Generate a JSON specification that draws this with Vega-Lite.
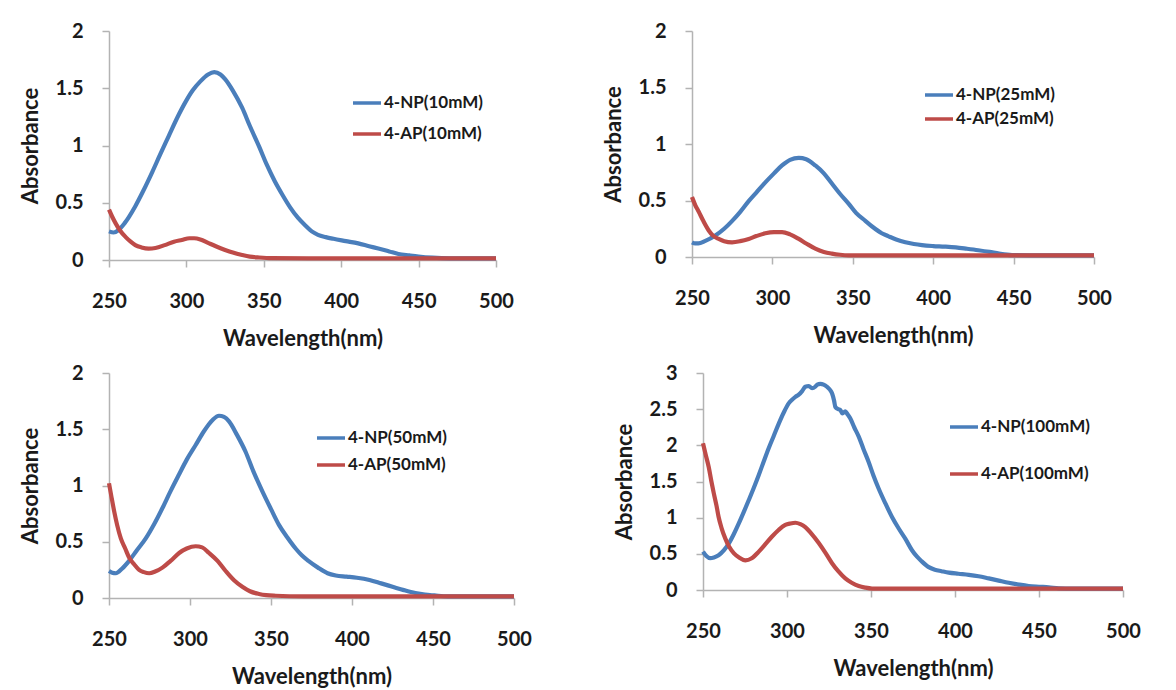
{
  "$schema": "https://vega.github.io/schema/vega-lite/v6.json",
  "background": "white",
  "padding": {"left": 19, "top": 21, "right": 5, "bottom": 5},
  "spacing": 14,
  "datasets": {
    "p10": [
      {"series": "4-NP(10mM)", "wl": 250, "abs": 0.25}, {"series": "4-NP(10mM)", "wl": 253, "abs": 0.24},
      {"series": "4-NP(10mM)", "wl": 256, "abs": 0.26}, {"series": "4-NP(10mM)", "wl": 260, "abs": 0.32},
      {"series": "4-NP(10mM)", "wl": 267, "abs": 0.47}, {"series": "4-NP(10mM)", "wl": 272, "abs": 0.6},
      {"series": "4-NP(10mM)", "wl": 278, "abs": 0.77}, {"series": "4-NP(10mM)", "wl": 283, "abs": 0.92},
      {"series": "4-NP(10mM)", "wl": 288.5, "abs": 1.08}, {"series": "4-NP(10mM)", "wl": 294, "abs": 1.24},
      {"series": "4-NP(10mM)", "wl": 299, "abs": 1.37}, {"series": "4-NP(10mM)", "wl": 304, "abs": 1.48},
      {"series": "4-NP(10mM)", "wl": 309, "abs": 1.56}, {"series": "4-NP(10mM)", "wl": 314, "abs": 1.62},
      {"series": "4-NP(10mM)", "wl": 318, "abs": 1.64}, {"series": "4-NP(10mM)", "wl": 322, "abs": 1.62},
      {"series": "4-NP(10mM)", "wl": 325, "abs": 1.58}, {"series": "4-NP(10mM)", "wl": 330, "abs": 1.48},
      {"series": "4-NP(10mM)", "wl": 336, "abs": 1.33}, {"series": "4-NP(10mM)", "wl": 341, "abs": 1.17},
      {"series": "4-NP(10mM)", "wl": 347, "abs": 0.99}, {"series": "4-NP(10mM)", "wl": 352, "abs": 0.83},
      {"series": "4-NP(10mM)", "wl": 357, "abs": 0.69}, {"series": "4-NP(10mM)", "wl": 362, "abs": 0.57},
      {"series": "4-NP(10mM)", "wl": 367, "abs": 0.46}, {"series": "4-NP(10mM)", "wl": 372, "abs": 0.37},
      {"series": "4-NP(10mM)", "wl": 377, "abs": 0.3}, {"series": "4-NP(10mM)", "wl": 381, "abs": 0.25},
      {"series": "4-NP(10mM)", "wl": 385, "abs": 0.22}, {"series": "4-NP(10mM)", "wl": 390, "abs": 0.2},
      {"series": "4-NP(10mM)", "wl": 395, "abs": 0.185}, {"series": "4-NP(10mM)", "wl": 403, "abs": 0.165},
      {"series": "4-NP(10mM)", "wl": 411, "abs": 0.145}, {"series": "4-NP(10mM)", "wl": 418, "abs": 0.12},
      {"series": "4-NP(10mM)", "wl": 424, "abs": 0.1}, {"series": "4-NP(10mM)", "wl": 431, "abs": 0.075},
      {"series": "4-NP(10mM)", "wl": 437, "abs": 0.053}, {"series": "4-NP(10mM)", "wl": 444, "abs": 0.04},
      {"series": "4-NP(10mM)", "wl": 450, "abs": 0.03}, {"series": "4-NP(10mM)", "wl": 459, "abs": 0.02},
      {"series": "4-NP(10mM)", "wl": 470, "abs": 0.015}, {"series": "4-NP(10mM)", "wl": 500, "abs": 0.015},
      {"series": "4-AP(10mM)", "wl": 250, "abs": 0.44}, {"series": "4-AP(10mM)", "wl": 252, "abs": 0.38},
      {"series": "4-AP(10mM)", "wl": 254.3, "abs": 0.32}, {"series": "4-AP(10mM)", "wl": 257, "abs": 0.26},
      {"series": "4-AP(10mM)", "wl": 260.8, "abs": 0.2}, {"series": "4-AP(10mM)", "wl": 264, "abs": 0.16},
      {"series": "4-AP(10mM)", "wl": 267, "abs": 0.13}, {"series": "4-AP(10mM)", "wl": 271, "abs": 0.11},
      {"series": "4-AP(10mM)", "wl": 275.6, "abs": 0.1}, {"series": "4-AP(10mM)", "wl": 280, "abs": 0.105},
      {"series": "4-AP(10mM)", "wl": 286, "abs": 0.13}, {"series": "4-AP(10mM)", "wl": 292, "abs": 0.16},
      {"series": "4-AP(10mM)", "wl": 297, "abs": 0.175}, {"series": "4-AP(10mM)", "wl": 302, "abs": 0.19},
      {"series": "4-AP(10mM)", "wl": 305, "abs": 0.19}, {"series": "4-AP(10mM)", "wl": 309, "abs": 0.18},
      {"series": "4-AP(10mM)", "wl": 314, "abs": 0.15}, {"series": "4-AP(10mM)", "wl": 319, "abs": 0.12},
      {"series": "4-AP(10mM)", "wl": 325, "abs": 0.088}, {"series": "4-AP(10mM)", "wl": 330, "abs": 0.065},
      {"series": "4-AP(10mM)", "wl": 336, "abs": 0.044}, {"series": "4-AP(10mM)", "wl": 341, "abs": 0.03},
      {"series": "4-AP(10mM)", "wl": 347, "abs": 0.022}, {"series": "4-AP(10mM)", "wl": 355, "abs": 0.016},
      {"series": "4-AP(10mM)", "wl": 380, "abs": 0.015}, {"series": "4-AP(10mM)", "wl": 420, "abs": 0.015},
      {"series": "4-AP(10mM)", "wl": 500, "abs": 0.015}
    ],
    "p25": [
      {"series": "4-NP(25mM)", "wl": 250, "abs": 0.13}, {"series": "4-NP(25mM)", "wl": 252, "abs": 0.12},
      {"series": "4-NP(25mM)", "wl": 254, "abs": 0.12}, {"series": "4-NP(25mM)", "wl": 258, "abs": 0.14},
      {"series": "4-NP(25mM)", "wl": 264.5, "abs": 0.19}, {"series": "4-NP(25mM)", "wl": 270, "abs": 0.25},
      {"series": "4-NP(25mM)", "wl": 275, "abs": 0.32}, {"series": "4-NP(25mM)", "wl": 280, "abs": 0.4},
      {"series": "4-NP(25mM)", "wl": 285, "abs": 0.49}, {"series": "4-NP(25mM)", "wl": 290, "abs": 0.57},
      {"series": "4-NP(25mM)", "wl": 295.6, "abs": 0.66}, {"series": "4-NP(25mM)", "wl": 301, "abs": 0.74},
      {"series": "4-NP(25mM)", "wl": 306, "abs": 0.81}, {"series": "4-NP(25mM)", "wl": 311, "abs": 0.86},
      {"series": "4-NP(25mM)", "wl": 316.4, "abs": 0.877}, {"series": "4-NP(25mM)", "wl": 321, "abs": 0.865},
      {"series": "4-NP(25mM)", "wl": 326.7, "abs": 0.81}, {"series": "4-NP(25mM)", "wl": 332, "abs": 0.74},
      {"series": "4-NP(25mM)", "wl": 337, "abs": 0.65}, {"series": "4-NP(25mM)", "wl": 342, "abs": 0.56},
      {"series": "4-NP(25mM)", "wl": 347.5, "abs": 0.47}, {"series": "4-NP(25mM)", "wl": 352, "abs": 0.39},
      {"series": "4-NP(25mM)", "wl": 357.8, "abs": 0.32}, {"series": "4-NP(25mM)", "wl": 362, "abs": 0.27},
      {"series": "4-NP(25mM)", "wl": 368, "abs": 0.21}, {"series": "4-NP(25mM)", "wl": 372, "abs": 0.185},
      {"series": "4-NP(25mM)", "wl": 377, "abs": 0.155}, {"series": "4-NP(25mM)", "wl": 382.7, "abs": 0.13},
      {"series": "4-NP(25mM)", "wl": 388, "abs": 0.115}, {"series": "4-NP(25mM)", "wl": 393, "abs": 0.105},
      {"series": "4-NP(25mM)", "wl": 400, "abs": 0.097}, {"series": "4-NP(25mM)", "wl": 407, "abs": 0.092},
      {"series": "4-NP(25mM)", "wl": 414, "abs": 0.085}, {"series": "4-NP(25mM)", "wl": 421, "abs": 0.073},
      {"series": "4-NP(25mM)", "wl": 428, "abs": 0.06}, {"series": "4-NP(25mM)", "wl": 435, "abs": 0.045},
      {"series": "4-NP(25mM)", "wl": 441, "abs": 0.03}, {"series": "4-NP(25mM)", "wl": 449, "abs": 0.017},
      {"series": "4-NP(25mM)", "wl": 460, "abs": 0.015}, {"series": "4-NP(25mM)", "wl": 500, "abs": 0.015},
      {"series": "4-AP(25mM)", "wl": 250, "abs": 0.53}, {"series": "4-AP(25mM)", "wl": 252, "abs": 0.46},
      {"series": "4-AP(25mM)", "wl": 254.2, "abs": 0.4}, {"series": "4-AP(25mM)", "wl": 257, "abs": 0.32},
      {"series": "4-AP(25mM)", "wl": 260.4, "abs": 0.235}, {"series": "4-AP(25mM)", "wl": 263, "abs": 0.19},
      {"series": "4-AP(25mM)", "wl": 266.6, "abs": 0.16}, {"series": "4-AP(25mM)", "wl": 270, "abs": 0.14},
      {"series": "4-AP(25mM)", "wl": 274.9, "abs": 0.13}, {"series": "4-AP(25mM)", "wl": 280, "abs": 0.14},
      {"series": "4-AP(25mM)", "wl": 285.3, "abs": 0.16}, {"series": "4-AP(25mM)", "wl": 290, "abs": 0.185},
      {"series": "4-AP(25mM)", "wl": 295.6, "abs": 0.21}, {"series": "4-AP(25mM)", "wl": 301, "abs": 0.22},
      {"series": "4-AP(25mM)", "wl": 306, "abs": 0.22}, {"series": "4-AP(25mM)", "wl": 311, "abs": 0.2},
      {"series": "4-AP(25mM)", "wl": 316.4, "abs": 0.16}, {"series": "4-AP(25mM)", "wl": 321, "abs": 0.12},
      {"series": "4-AP(25mM)", "wl": 326.7, "abs": 0.074}, {"series": "4-AP(25mM)", "wl": 332, "abs": 0.045},
      {"series": "4-AP(25mM)", "wl": 337, "abs": 0.03}, {"series": "4-AP(25mM)", "wl": 342, "abs": 0.02},
      {"series": "4-AP(25mM)", "wl": 347.5, "abs": 0.015}, {"series": "4-AP(25mM)", "wl": 380, "abs": 0.015},
      {"series": "4-AP(25mM)", "wl": 500, "abs": 0.015}
    ],
    "p50": [
      {"series": "4-NP(50mM)", "wl": 250, "abs": 0.24}, {"series": "4-NP(50mM)", "wl": 252, "abs": 0.225},
      {"series": "4-NP(50mM)", "wl": 254.2, "abs": 0.22}, {"series": "4-NP(50mM)", "wl": 258, "abs": 0.26},
      {"series": "4-NP(50mM)", "wl": 262.4, "abs": 0.33}, {"series": "4-NP(50mM)", "wl": 267, "abs": 0.42},
      {"series": "4-NP(50mM)", "wl": 272.7, "abs": 0.53}, {"series": "4-NP(50mM)", "wl": 278, "abs": 0.66},
      {"series": "4-NP(50mM)", "wl": 283, "abs": 0.8}, {"series": "4-NP(50mM)", "wl": 288, "abs": 0.95},
      {"series": "4-NP(50mM)", "wl": 293.3, "abs": 1.1}, {"series": "4-NP(50mM)", "wl": 298, "abs": 1.23},
      {"series": "4-NP(50mM)", "wl": 303.5, "abs": 1.36}, {"series": "4-NP(50mM)", "wl": 308.5, "abs": 1.48},
      {"series": "4-NP(50mM)", "wl": 313.8, "abs": 1.58}, {"series": "4-NP(50mM)", "wl": 317.9, "abs": 1.62},
      {"series": "4-NP(50mM)", "wl": 321, "abs": 1.61}, {"series": "4-NP(50mM)", "wl": 324.1, "abs": 1.57},
      {"series": "4-NP(50mM)", "wl": 329, "abs": 1.45}, {"series": "4-NP(50mM)", "wl": 334.3, "abs": 1.3},
      {"series": "4-NP(50mM)", "wl": 339, "abs": 1.13}, {"series": "4-NP(50mM)", "wl": 344.6, "abs": 0.95},
      {"series": "4-NP(50mM)", "wl": 350, "abs": 0.79}, {"series": "4-NP(50mM)", "wl": 354.9, "abs": 0.65},
      {"series": "4-NP(50mM)", "wl": 360, "abs": 0.54}, {"series": "4-NP(50mM)", "wl": 365.2, "abs": 0.44},
      {"series": "4-NP(50mM)", "wl": 369, "abs": 0.38}, {"series": "4-NP(50mM)", "wl": 373.1, "abs": 0.33},
      {"series": "4-NP(50mM)", "wl": 379, "abs": 0.27}, {"series": "4-NP(50mM)", "wl": 384.9, "abs": 0.22},
      {"series": "4-NP(50mM)", "wl": 390, "abs": 0.2}, {"series": "4-NP(50mM)", "wl": 396.7, "abs": 0.19},
      {"series": "4-NP(50mM)", "wl": 403, "abs": 0.18}, {"series": "4-NP(50mM)", "wl": 410.8, "abs": 0.16},
      {"series": "4-NP(50mM)", "wl": 418, "abs": 0.13}, {"series": "4-NP(50mM)", "wl": 425, "abs": 0.1},
      {"series": "4-NP(50mM)", "wl": 432, "abs": 0.07}, {"series": "4-NP(50mM)", "wl": 439.1, "abs": 0.044},
      {"series": "4-NP(50mM)", "wl": 445, "abs": 0.03}, {"series": "4-NP(50mM)", "wl": 450.9, "abs": 0.023},
      {"series": "4-NP(50mM)", "wl": 459.2, "abs": 0.015}, {"series": "4-NP(50mM)", "wl": 500, "abs": 0.015},
      {"series": "4-AP(50mM)", "wl": 250, "abs": 1.02}, {"series": "4-AP(50mM)", "wl": 251.5, "abs": 0.9},
      {"series": "4-AP(50mM)", "wl": 253.2, "abs": 0.77}, {"series": "4-AP(50mM)", "wl": 255, "abs": 0.65},
      {"series": "4-AP(50mM)", "wl": 257.3, "abs": 0.53}, {"series": "4-AP(50mM)", "wl": 260, "abs": 0.44},
      {"series": "4-AP(50mM)", "wl": 262.4, "abs": 0.36}, {"series": "4-AP(50mM)", "wl": 265.5, "abs": 0.3},
      {"series": "4-AP(50mM)", "wl": 268.6, "abs": 0.25}, {"series": "4-AP(50mM)", "wl": 271.5, "abs": 0.23},
      {"series": "4-AP(50mM)", "wl": 274.8, "abs": 0.22}, {"series": "4-AP(50mM)", "wl": 278.5, "abs": 0.235},
      {"series": "4-AP(50mM)", "wl": 283, "abs": 0.27}, {"series": "4-AP(50mM)", "wl": 288, "abs": 0.33},
      {"series": "4-AP(50mM)", "wl": 293.3, "abs": 0.4}, {"series": "4-AP(50mM)", "wl": 298, "abs": 0.44},
      {"series": "4-AP(50mM)", "wl": 303.5, "abs": 0.46}, {"series": "4-AP(50mM)", "wl": 307.5, "abs": 0.45},
      {"series": "4-AP(50mM)", "wl": 311.8, "abs": 0.4}, {"series": "4-AP(50mM)", "wl": 317, "abs": 0.33},
      {"series": "4-AP(50mM)", "wl": 322, "abs": 0.24}, {"series": "4-AP(50mM)", "wl": 327, "abs": 0.16},
      {"series": "4-AP(50mM)", "wl": 332.3, "abs": 0.1}, {"series": "4-AP(50mM)", "wl": 337, "abs": 0.06},
      {"series": "4-AP(50mM)", "wl": 342.6, "abs": 0.036}, {"series": "4-AP(50mM)", "wl": 347, "abs": 0.025},
      {"series": "4-AP(50mM)", "wl": 352.8, "abs": 0.02}, {"series": "4-AP(50mM)", "wl": 370, "abs": 0.015},
      {"series": "4-AP(50mM)", "wl": 500, "abs": 0.015}
    ],
    "p100": [
      {"series": "4-NP(100mM)", "wl": 250, "abs": 0.53}, {"series": "4-NP(100mM)", "wl": 252, "abs": 0.47},
      {"series": "4-NP(100mM)", "wl": 254.3, "abs": 0.44}, {"series": "4-NP(100mM)", "wl": 256.5, "abs": 0.45},
      {"series": "4-NP(100mM)", "wl": 259.3, "abs": 0.48}, {"series": "4-NP(100mM)", "wl": 262.5, "abs": 0.55},
      {"series": "4-NP(100mM)", "wl": 265.3, "abs": 0.64}, {"series": "4-NP(100mM)", "wl": 268.3, "abs": 0.77},
      {"series": "4-NP(100mM)", "wl": 271.3, "abs": 0.92}, {"series": "4-NP(100mM)", "wl": 274.3, "abs": 1.08},
      {"series": "4-NP(100mM)", "wl": 277.2, "abs": 1.24}, {"series": "4-NP(100mM)", "wl": 280.2, "abs": 1.41},
      {"series": "4-NP(100mM)", "wl": 283.2, "abs": 1.59}, {"series": "4-NP(100mM)", "wl": 286.2, "abs": 1.78},
      {"series": "4-NP(100mM)", "wl": 289.1, "abs": 1.96}, {"series": "4-NP(100mM)", "wl": 292.1, "abs": 2.13},
      {"series": "4-NP(100mM)", "wl": 295.1, "abs": 2.3}, {"series": "4-NP(100mM)", "wl": 298, "abs": 2.45},
      {"series": "4-NP(100mM)", "wl": 301, "abs": 2.58}, {"series": "4-NP(100mM)", "wl": 303, "abs": 2.63},
      {"series": "4-NP(100mM)", "wl": 305, "abs": 2.67}, {"series": "4-NP(100mM)", "wl": 307, "abs": 2.7},
      {"series": "4-NP(100mM)", "wl": 309, "abs": 2.75}, {"series": "4-NP(100mM)", "wl": 310.9, "abs": 2.81},
      {"series": "4-NP(100mM)", "wl": 313, "abs": 2.82}, {"series": "4-NP(100mM)", "wl": 314.9, "abs": 2.79},
      {"series": "4-NP(100mM)", "wl": 316.8, "abs": 2.81}, {"series": "4-NP(100mM)", "wl": 318, "abs": 2.84},
      {"series": "4-NP(100mM)", "wl": 319.8, "abs": 2.85}, {"series": "4-NP(100mM)", "wl": 321.8, "abs": 2.84},
      {"series": "4-NP(100mM)", "wl": 323.8, "abs": 2.81}, {"series": "4-NP(100mM)", "wl": 325.5, "abs": 2.77},
      {"series": "4-NP(100mM)", "wl": 326.8, "abs": 2.72}, {"series": "4-NP(100mM)", "wl": 328, "abs": 2.62},
      {"series": "4-NP(100mM)", "wl": 328.8, "abs": 2.53}, {"series": "4-NP(100mM)", "wl": 330.5, "abs": 2.5},
      {"series": "4-NP(100mM)", "wl": 331.7, "abs": 2.49}, {"series": "4-NP(100mM)", "wl": 333, "abs": 2.44},
      {"series": "4-NP(100mM)", "wl": 334.7, "abs": 2.47}, {"series": "4-NP(100mM)", "wl": 336, "abs": 2.43},
      {"series": "4-NP(100mM)", "wl": 337.7, "abs": 2.37}, {"series": "4-NP(100mM)", "wl": 340, "abs": 2.25},
      {"series": "4-NP(100mM)", "wl": 342.7, "abs": 2.12}, {"series": "4-NP(100mM)", "wl": 345.5, "abs": 1.95},
      {"series": "4-NP(100mM)", "wl": 348.6, "abs": 1.77}, {"series": "4-NP(100mM)", "wl": 351.5, "abs": 1.58},
      {"series": "4-NP(100mM)", "wl": 354.6, "abs": 1.4}, {"series": "4-NP(100mM)", "wl": 358.5, "abs": 1.2},
      {"series": "4-NP(100mM)", "wl": 362.5, "abs": 1.01}, {"series": "4-NP(100mM)", "wl": 366.5, "abs": 0.85},
      {"series": "4-NP(100mM)", "wl": 370.4, "abs": 0.71}, {"series": "4-NP(100mM)", "wl": 374.4, "abs": 0.55},
      {"series": "4-NP(100mM)", "wl": 377.4, "abs": 0.46}, {"series": "4-NP(100mM)", "wl": 380, "abs": 0.4},
      {"series": "4-NP(100mM)", "wl": 384.1, "abs": 0.32}, {"series": "4-NP(100mM)", "wl": 388, "abs": 0.28},
      {"series": "4-NP(100mM)", "wl": 392, "abs": 0.26}, {"series": "4-NP(100mM)", "wl": 396.3, "abs": 0.24},
      {"series": "4-NP(100mM)", "wl": 402, "abs": 0.225}, {"series": "4-NP(100mM)", "wl": 408.2, "abs": 0.21},
      {"series": "4-NP(100mM)", "wl": 414, "abs": 0.19}, {"series": "4-NP(100mM)", "wl": 420.1, "abs": 0.16},
      {"series": "4-NP(100mM)", "wl": 426, "abs": 0.13}, {"series": "4-NP(100mM)", "wl": 432, "abs": 0.1},
      {"series": "4-NP(100mM)", "wl": 438, "abs": 0.075}, {"series": "4-NP(100mM)", "wl": 443.9, "abs": 0.055},
      {"series": "4-NP(100mM)", "wl": 450, "abs": 0.045}, {"series": "4-NP(100mM)", "wl": 455.8, "abs": 0.037},
      {"series": "4-NP(100mM)", "wl": 461.7, "abs": 0.023}, {"series": "4-NP(100mM)", "wl": 470, "abs": 0.018},
      {"series": "4-NP(100mM)", "wl": 500, "abs": 0.018},
      {"series": "4-AP(100mM)", "wl": 250, "abs": 2.03}, {"series": "4-AP(100mM)", "wl": 251.5, "abs": 1.88},
      {"series": "4-AP(100mM)", "wl": 253.4, "abs": 1.7}, {"series": "4-AP(100mM)", "wl": 255, "abs": 1.5},
      {"series": "4-AP(100mM)", "wl": 256.4, "abs": 1.34}, {"series": "4-AP(100mM)", "wl": 258, "abs": 1.17},
      {"series": "4-AP(100mM)", "wl": 259.3, "abs": 1.01}, {"series": "4-AP(100mM)", "wl": 261, "abs": 0.86},
      {"series": "4-AP(100mM)", "wl": 263.3, "abs": 0.71}, {"series": "4-AP(100mM)", "wl": 265.5, "abs": 0.6},
      {"series": "4-AP(100mM)", "wl": 268.3, "abs": 0.51}, {"series": "4-AP(100mM)", "wl": 271.5, "abs": 0.45},
      {"series": "4-AP(100mM)", "wl": 275.2, "abs": 0.41}, {"series": "4-AP(100mM)", "wl": 279, "abs": 0.44},
      {"series": "4-AP(100mM)", "wl": 283.2, "abs": 0.53}, {"series": "4-AP(100mM)", "wl": 287, "abs": 0.63},
      {"series": "4-AP(100mM)", "wl": 291.1, "abs": 0.74}, {"series": "4-AP(100mM)", "wl": 295, "abs": 0.83},
      {"series": "4-AP(100mM)", "wl": 299, "abs": 0.9}, {"series": "4-AP(100mM)", "wl": 302, "abs": 0.92},
      {"series": "4-AP(100mM)", "wl": 305, "abs": 0.93}, {"series": "4-AP(100mM)", "wl": 308, "abs": 0.91},
      {"series": "4-AP(100mM)", "wl": 310.9, "abs": 0.87}, {"series": "4-AP(100mM)", "wl": 314.5, "abs": 0.78},
      {"series": "4-AP(100mM)", "wl": 318.9, "abs": 0.65}, {"series": "4-AP(100mM)", "wl": 323, "abs": 0.51},
      {"series": "4-AP(100mM)", "wl": 326.8, "abs": 0.37}, {"series": "4-AP(100mM)", "wl": 330.5, "abs": 0.26},
      {"series": "4-AP(100mM)", "wl": 334.7, "abs": 0.16}, {"series": "4-AP(100mM)", "wl": 338.5, "abs": 0.1},
      {"series": "4-AP(100mM)", "wl": 342.7, "abs": 0.055}, {"series": "4-AP(100mM)", "wl": 346.5, "abs": 0.033},
      {"series": "4-AP(100mM)", "wl": 350.6, "abs": 0.02}, {"series": "4-AP(100mM)", "wl": 370, "abs": 0.018},
      {"series": "4-AP(100mM)", "wl": 500, "abs": 0.018}
    ]
  },
  "vconcat": [
    {
      "bounds": "flush",
      "spacing": 196,
      "hconcat": [
        {
          "width": 387, "height": 229,
          "data": {"name": "p10"},
          "mark": {"type": "line", "strokeWidth": 4.2, "interpolate": "monotone"},
          "encoding": {
            "x": {"field": "wl", "type": "quantitative", "scale": {"domain": [250, 500], "nice": false},
                  "axis": {"values": [250, 300, 350, 400, 450, 500], "title": "Wavelength(nm)"}},
            "y": {"field": "abs", "type": "quantitative", "scale": {"domain": [0, 2], "nice": false},
                  "axis": {"values": [0, 0.5, 1, 1.5, 2], "format": "~g", "title": "Absorbance"}},
            "color": {"field": "series", "type": "nominal",
                      "scale": {"domain": ["4-NP(10mM)", "4-AP(10mM)"], "range": ["#4a7ebb", "#be4b48"]},
                      "legend": {"orient": "none", "legendX": 242, "legendY": 56, "rowPadding": 7}}
          }
        },
        {
          "width": 402, "height": 226,
          "data": {"name": "p25"},
          "mark": {"type": "line", "strokeWidth": 4.2, "interpolate": "monotone"},
          "encoding": {
            "x": {"field": "wl", "type": "quantitative", "scale": {"domain": [250, 500], "nice": false},
                  "axis": {"values": [250, 300, 350, 400, 450, 500], "title": "Wavelength(nm)"}},
            "y": {"field": "abs", "type": "quantitative", "scale": {"domain": [0, 2], "nice": false},
                  "axis": {"values": [0, 0.5, 1, 1.5, 2], "format": "~g", "title": "Absorbance"}},
            "color": {"field": "series", "type": "nominal",
                      "scale": {"domain": ["4-NP(25mM)", "4-AP(25mM)"], "range": ["#4a7ebb", "#be4b48"]},
                      "legend": {"orient": "none", "legendX": 231, "legendY": 48, "rowPadding": 0}}
          }
        }
      ],
      "resolve": {"scale": {"color": "independent"}, "legend": {"color": "independent"}}
    },
    {
      "bounds": "flush",
      "spacing": 189,
      "hconcat": [
        {
          "width": 405, "height": 225,
          "data": {"name": "p50"},
          "mark": {"type": "line", "strokeWidth": 4.2, "interpolate": "monotone"},
          "encoding": {
            "x": {"field": "wl", "type": "quantitative", "scale": {"domain": [250, 500], "nice": false},
                  "axis": {"values": [250, 300, 350, 400, 450, 500], "title": "Wavelength(nm)"}},
            "y": {"field": "abs", "type": "quantitative", "scale": {"domain": [0, 2], "nice": false},
                  "axis": {"values": [0, 0.5, 1, 1.5, 2], "format": "~g", "title": "Absorbance"}},
            "color": {"field": "series", "type": "nominal",
                      "scale": {"domain": ["4-NP(50mM)", "4-AP(50mM)"], "range": ["#4a7ebb", "#be4b48"]},
                      "legend": {"orient": "none", "legendX": 206, "legendY": 49, "rowPadding": 3}}
          }
        },
        {
          "width": 420, "height": 217,
          "data": {"name": "p100"},
          "mark": {"type": "line", "strokeWidth": 4.2, "interpolate": "monotone"},
          "encoding": {
            "x": {"field": "wl", "type": "quantitative", "scale": {"domain": [250, 500], "nice": false},
                  "axis": {"values": [250, 300, 350, 400, 450, 500], "title": "Wavelength(nm)"}},
            "y": {"field": "abs", "type": "quantitative", "scale": {"domain": [0, 3], "nice": false},
                  "axis": {"values": [0, 0.5, 1, 1.5, 2, 2.5, 3], "format": "~g", "title": "Absorbance"}},
            "color": {"field": "series", "type": "nominal",
                      "scale": {"domain": ["4-NP(100mM)", "4-AP(100mM)"], "range": ["#4a7ebb", "#be4b48"]},
                      "legend": {"orient": "none", "legendX": 245, "legendY": 38, "rowPadding": 23}}
          }
        }
      ],
      "resolve": {"scale": {"color": "independent"}, "legend": {"color": "independent"}}
    }
  ],
  "resolve": {"scale": {"color": "independent"}, "legend": {"color": "independent"}},
  "config": {
    "view": {"stroke": null},
    "font": "Lato",
    "axis": {
      "grid": false,
      "labelFlush": false,
      "domainColor": "#b3b3b3", "domainWidth": 1.5,
      "tickColor": "#b3b3b3", "tickWidth": 1.5, "tickSize": 7,
      "labelFont": "Lato", "labelFontSize": 20, "labelFontWeight": "bold", "labelColor": "#1a1a1a",
      "titleFont": "Lato", "titleFontSize": 22, "titleFontWeight": "bold", "titleColor": "#1a1a1a"
    },
    "axisX": {"labelPadding": 24, "titlePadding": 17},
    "axisY": {"labelPadding": 19, "titlePadding": 13},
    "legend": {
      "symbolType": "stroke", "symbolSize": 784, "symbolStrokeWidth": 3.5,
      "labelFont": "Lato", "labelFontSize": 17, "labelFontWeight": "bold", "labelColor": "#1a1a1a",
      "labelOffset": 1, "padding": 0, "title": null
    }
  }
}
